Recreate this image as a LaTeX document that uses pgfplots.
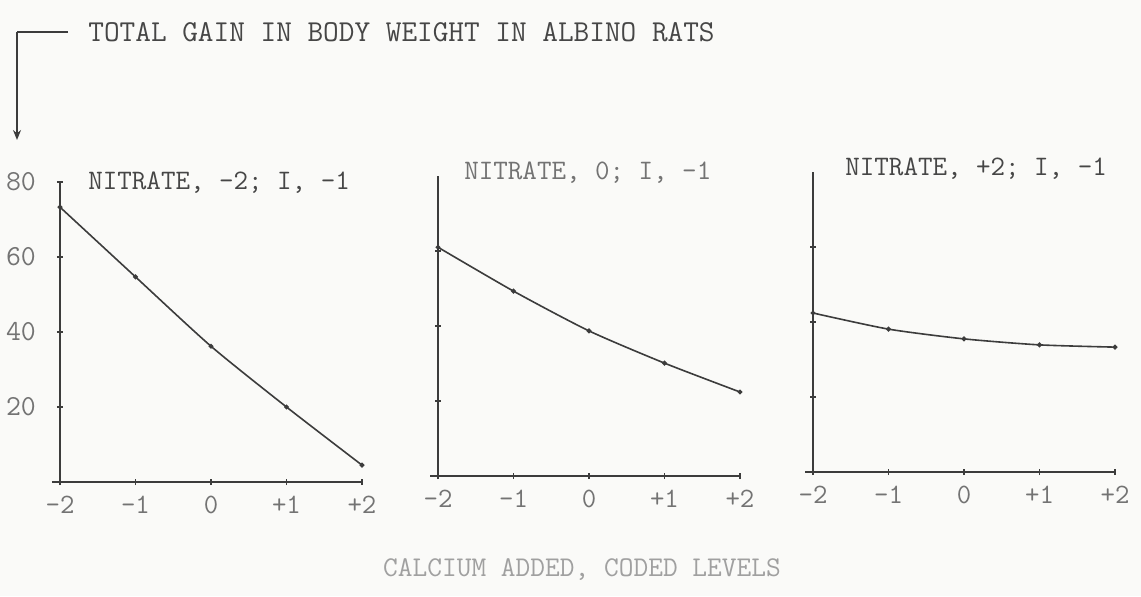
\documentclass[border=0pt]{standalone}
\usepackage{fontspec}
\usepackage{pgfplots}
\pgfplotsset{compat=1.18}
\usetikzlibrary{arrows.meta}
\definecolor{bg}{RGB}{250,250,248}
\definecolor{ink}{RGB}{60,60,60}
\definecolor{txt}{RGB}{70,70,70}
\definecolor{ltxt}{RGB}{115,115,115}
\definecolor{fade}{RGB}{160,160,160}
\pgfplotsset{
  panel/.style={
    scale only axis, width=151pt, height=150pt,
    anchor=south west,
    xmin=-2, xmax=2, ymin=0, ymax=80,
    axis lines*=left,
    axis line style={ink, line width=0.7pt, -},
    x axis line style={shorten <=-4pt},
    xtick={-2,-1,0,1,2},
    xticklabels={-2,-1,0,+1,+2},
    ytick={20,40,60,80},
    tick align=center,
    major tick length=3pt,
    tick style={ink, line width=0.6pt},
    xticklabel style={font=\ttfamily\fontsize{14pt}{15pt}\selectfont, text=ltxt, yshift=-2pt},
    yticklabel style={font=\ttfamily\fontsize{14.5pt}{15pt}\selectfont, text=ltxt, xshift=-7pt},
    clip=false,
  },
  curve/.style={ink, line width=0.8pt, smooth, tension=0.4, mark=*, mark size=0.8pt, mark options={fill=ink}},
}
\begin{document}
\begin{tikzpicture}[x=0.5pt, y=0.5pt]
\fill[bg] (0,0) rectangle (1141,596);
\useasboundingbox (0,0) rectangle (1141,596);
% heading and arrow
\draw[ink, line width=0.7pt] (68,564) -- (17,564);
\draw[ink, line width=0.7pt, -{Stealth[length=5pt,width=4pt]}] (17,564.35) -- (17,456);
\node[anchor=west, text=txt, inner sep=0pt, font=\ttfamily\fontsize{15.2pt}{16pt}\selectfont] at (88,564) {TOTAL GAIN IN BODY WEIGHT IN ALBINO RATS};
% panel 1
\begin{axis}[panel, at={(30pt,57pt)}, yticklabels={20,40,60,80}]
\addplot[curve] coordinates {(-2,73.3) (-1,54.7) (0,36.2) (1,20.0) (2,4.5)};
\end{axis}
% panel 2
\begin{axis}[panel, at={(219pt,60pt)}, yticklabels={}, ytick={20,40,60}]
\addplot[curve] coordinates {(-2,61.0) (-1,49.3) (0,38.7) (1,30.1) (2,22.4)};
\end{axis}
% panel 3
\begin{axis}[panel, at={(406.5pt,62pt)}, yticklabels={}, ytick={20,40,60}]
\addplot[curve] coordinates {(-2,42.4) (-1,38.1) (0,35.5) (1,33.9) (2,33.3)};
\end{axis}
% panel titles
\node[anchor=west, text=txt, inner sep=0pt, font=\ttfamily\fontsize{14.1pt}{15pt}\selectfont] at (88,413) {NITRATE, -2; I, -1};
\node[anchor=west, text=ltxt, inner sep=0pt, font=\ttfamily\fontsize{14.1pt}{15pt}\selectfont] at (464,423) {NITRATE, 0; I, -1};
\node[anchor=west, text=txt, inner sep=0pt, font=\ttfamily\fontsize{14.1pt}{15pt}\selectfont] at (845,427) {NITRATE, +2; I, -1};
% bottom label
\node[text=fade, inner sep=0pt, font=\ttfamily\fontsize{14.3pt}{15pt}\selectfont] at (582,26) {CALCIUM ADDED, CODED LEVELS};
\end{tikzpicture}
\end{document}
